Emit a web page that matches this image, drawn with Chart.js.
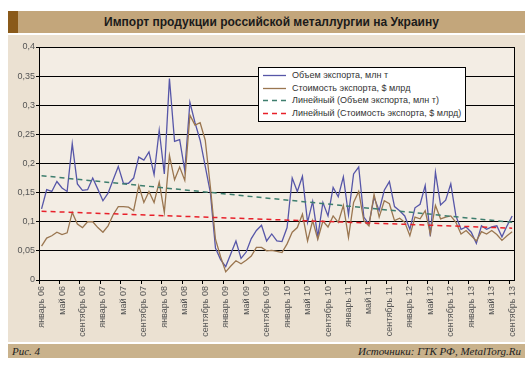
<!DOCTYPE html>
<html>
<head>
<meta charset="utf-8">
<script src="https://cdn.jsdelivr.net/npm/chart.js@4.4.1/dist/chart.umd.min.js"></script>
<style>
  body { margin: 0; background: #fff; width: 532px; height: 365px; position: relative; overflow: hidden; }
  #title { position: absolute; left: 8px; top: 11px; width: 517px; height: 22px; background: #c3a67b; }
  #title .mark { position: absolute; left: 0; top: 0; width: 10px; height: 22px; background: #8a5a1a; }
  #title .text { text-align: center; font: bold 12px "Liberation Sans", Arial, sans-serif; line-height: 22px; color: #1a1a1a; padding-left: 10px; }
  #wrap { position: absolute; left: 8px; top: 35px; width: 517px; height: 307px; background: #ebe1d2; }
  #legend { position: absolute; left: 250px; top: 32px; width: 206px; height: 53px; background: #fff; border: 1px solid #000;
            font: 9px "Liberation Sans", Arial, sans-serif; color: #333; }
  #legend .row { position: absolute; left: 0; height: 12px; line-height: 12px; white-space: nowrap; }
  #legend svg { position: absolute; left: 4px; top: 5px; }
  #legend span { position: absolute; left: 33px; top: 0; }
  #foot { position: absolute; left: 8px; top: 344px; width: 517px; height: 14px; background: #c9b28c;
          font: italic 11px "Liberation Serif", serif; color: #222; line-height: 14px; }
  #foot .l { position: absolute; left: 4px; }
  #foot .r { position: absolute; right: 4px; }
</style>
</head>
<body>
<div id="title"><div class="mark"></div><div class="text">Импорт продукции российской металлургии на Украину</div></div>
<div id="wrap">
  <canvas id="myChart" width="517" height="307"></canvas>
  <div id="legend">
    <div class="row" style="top:1px"><svg width="24" height="3"><line x1="0" y1="1.5" x2="23" y2="1.5" stroke="#5656a8" stroke-width="1.3"/></svg><span>Объем экспорта, млн т</span></div>
    <div class="row" style="top:14px"><svg width="24" height="3"><line x1="0" y1="1.5" x2="23" y2="1.5" stroke="#9a7650" stroke-width="1.3"/></svg><span>Стоимость экспорта, $ млрд</span></div>
    <div class="row" style="top:26px"><svg width="24" height="3"><line x1="0" y1="1.5" x2="23" y2="1.5" stroke="#3e7e6e" stroke-width="1.5" stroke-dasharray="5,4"/></svg><span>Линейный (Объем экспорта, млн т)</span></div>
    <div class="row" style="top:39px"><svg width="24" height="3"><line x1="0" y1="1.5" x2="23" y2="1.5" stroke="#e8202a" stroke-width="1.5" stroke-dasharray="5,4"/></svg><span>Линейный (Стоимость экспорта, $ млрд)</span></div>
  </div>
</div>
<div id="foot"><span class="l">Рис. 4</span><span class="r">Источники: ГТК РФ, MetalTorg.Ru</span></div>
<script>
// месяцы янв 2006 - сен 2013
var monthNames = ["январь","февраль","март","апрель","май","июнь","июль","август","сентябрь","октябрь","ноябрь","декабрь"];
var years = ["06","07","08","09","10","11","12","13"];

// объем экспорта, млн т
var volume = [0.122,0.155,0.152,0.169,0.158,0.152,0.234,0.165,0.154,0.155,0.175,0.156,
              0.136,0.149,0.172,0.195,0.166,0.166,0.175,0.211,0.206,0.220,0.181,0.257,
              0.182,0.346,0.238,0.241,0.188,0.305,0.270,0.240,0.195,0.150,0.055,0.035,
              0.023,0.045,0.067,0.037,0.048,0.071,0.085,0.094,0.067,0.079,0.067,0.066,
              0.090,0.175,0.152,0.178,0.099,0.135,0.074,0.133,0.110,0.159,0.143,0.177,
              0.112,0.182,0.194,0.108,0.096,0.142,0.119,0.154,0.169,0.126,0.119,0.110,
              0.087,0.124,0.130,0.162,0.075,0.185,0.129,0.137,0.165,0.110,0.087,0.091,
              0.082,0.063,0.093,0.087,0.091,0.093,0.074,0.093,0.110];
// стоимость экспорта, $ млрд
var value = [0.058,0.072,0.076,0.082,0.078,0.081,0.116,0.096,0.090,0.100,0.100,0.090,
             0.082,0.093,0.112,0.126,0.126,0.125,0.119,0.162,0.133,0.152,0.133,0.168,
             0.116,0.214,0.172,0.194,0.171,0.283,0.266,0.270,0.240,0.160,0.070,0.040,
             0.014,0.024,0.033,0.028,0.034,0.041,0.056,0.056,0.050,0.051,0.049,0.047,
             0.062,0.082,0.090,0.113,0.067,0.102,0.070,0.101,0.091,0.110,0.099,0.128,
             0.073,0.133,0.152,0.102,0.093,0.147,0.108,0.136,0.131,0.102,0.106,0.099,
             0.076,0.108,0.105,0.119,0.079,0.128,0.105,0.108,0.110,0.099,0.079,0.085,
             0.076,0.067,0.083,0.079,0.085,0.078,0.068,0.076,0.083];
// линейные тренды: начало и конец
var volumeTrend = [0.179, 0.099];
var valueTrend = [0.118, 0.089];

var categories = [];
years.forEach(function (y) {
  monthNames.forEach(function (m) { categories.push(m + " " + y); });
});
categories = categories.slice(0, volume.length);
var last = categories.length - 1;

var plotBg = {
  id: 'plotBg',
  beforeDraw: function (chart) {
    var a = chart.chartArea, ctx = chart.ctx;
    ctx.save();
    ctx.fillStyle = '#f3ede4';
    ctx.fillRect(a.left, a.top, a.right - a.left, a.bottom - a.top);
    ctx.restore();
  },
  afterDraw: function (chart) {
    var a = chart.chartArea, ctx = chart.ctx;
    ctx.save();
    ctx.strokeStyle = '#000';
    ctx.lineWidth = 1;
    ctx.beginPath();
    ctx.moveTo(Math.round(a.right) - 0.5, a.top);
    ctx.lineTo(Math.round(a.right) - 0.5, a.bottom);
    ctx.stroke();
    ctx.restore();
  }
};

new Chart(document.getElementById("myChart"), {
  type: 'line',
  data: {
    labels: categories,
    datasets: [
      { label: "Объем экспорта, млн т", data: volume, borderColor: "#5656a8", borderWidth: 1.3, pointRadius: 0, order: 3 },
      { label: "Стоимость экспорта, $ млрд", data: value, borderColor: "#9a7650", borderWidth: 1.3, pointRadius: 0, order: 2 },
      { label: "Линейный (Объем экспорта, млн т)",
        data: [{ x: categories[0], y: volumeTrend[0] }, { x: categories[last], y: volumeTrend[1] }],
        borderColor: "#3e7e6e", borderWidth: 1.5, borderDash: [5, 4], pointRadius: 0, order: 1 },
      { label: "Линейный (Стоимость экспорта, $ млрд)",
        data: [{ x: categories[0], y: valueTrend[0] }, { x: categories[last], y: valueTrend[1] }],
        borderColor: "#e8202a", borderWidth: 1.5, borderDash: [5, 4], pointRadius: 0, order: 0 }
    ]
  },
  options: {
    responsive: false,
    animation: false,
    layout: { padding: { top: 12, right: 6, left: 0, bottom: 0 } },
    plugins: { legend: { display: false }, tooltip: { enabled: false } },
    scales: {
      x: {
        offset: true,
        grid: {
          offset: true,
          drawOnChartArea: false,
          tickLength: 4,
          tickColor: function (c) { return c.index % 4 === 0 ? '#000' : 'rgba(0,0,0,0)'; }
        },
        border: { color: '#000' },
        ticks: {
          autoSkip: false,
          maxRotation: 90,
          minRotation: 90,
          padding: 2,
          color: '#555',
          font: { family: '"Liberation Sans", Arial, sans-serif', size: 9 },
          callback: function (v, i) { return i % 4 === 0 ? this.getLabelForValue(v) : ''; }
        },
        afterFit: function (s) { s.height = 62; }
      },
      y: {
        min: 0,
        max: 0.4,
        grid: { color: '#000', tickLength: 3 },
        border: { color: '#000' },
        ticks: {
          stepSize: 0.05,
          padding: 1,
          color: '#555',
          font: { family: '"Liberation Sans", Arial, sans-serif', size: 9 },
          callback: function (v) { return String(Math.round(v * 100) / 100).replace('.', ','); }
        },
        afterFit: function (s) { s.width = 31; }
      }
    }
  },
  plugins: [plotBg]
});
</script>
</body>
</html>
